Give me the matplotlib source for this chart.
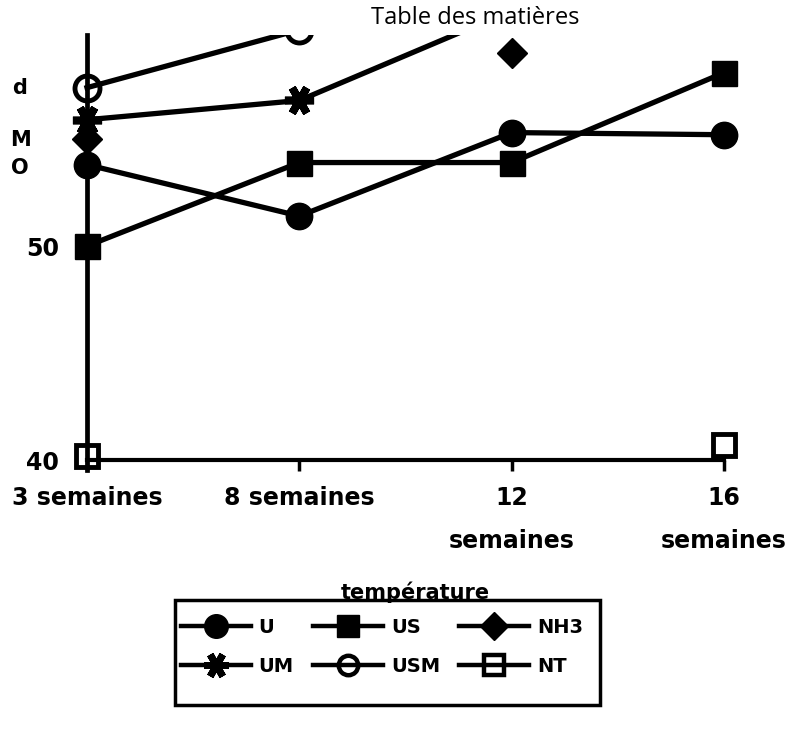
import numpy as np
import matplotlib
matplotlib.use("Agg")
import matplotlib.pyplot as plt
from matplotlib.lines import Line2D
from matplotlib.patches import Rectangle

# ---------------- data ----------------
categories = ["3 semaines", "8 semaines", "12\nsemaines", "16\nsemaines"]
U   = [53.8, 51.4, 55.3, 55.2]
US  = [50.0, 53.9, 53.9, 58.1]
NH3 = [55.0, np.nan, 59.0, np.nan]
UM  = [55.9, 56.8, 61.0, np.nan]
USM = [57.4, 60.1, np.nan, np.nan]
NT  = [40.2, np.nan, np.nan, 40.7]
y_ticks = [40, 50]
legend_title = "température"
page_title = "Table des matières"

# ---------------- layout (pixels) ----------------
W, H = 789, 732
fig = plt.figure(figsize=(W / 100, H / 100), dpi=100)

ax_left_px, ax_right_px = 40, 789
ax_top_px, ax_bot_px = 35, 470
x0_px, x3_px = 87, 724          # positions of first / last category
y50_px, y40_px = 246, 460       # positions of 50 and 40

ax = fig.add_axes([ax_left_px / W, 1 - ax_bot_px / H,
                   (ax_right_px - ax_left_px) / W, (ax_bot_px - ax_top_px) / H])
sx = (x3_px - x0_px) / 3.0
ax.set_xlim((ax_left_px - x0_px) / sx, (ax_right_px - x0_px) / sx)
sy = (y40_px - y50_px) / 10.0
ax.set_ylim(40 - (ax_bot_px - y40_px) / sy, 50 + (y50_px - ax_top_px) / sy)

x = np.arange(len(categories))
lw = 3.8
common = dict(color="black", lw=lw, clip_on=True, zorder=3)
ax.plot(x, U, marker="o", ms=19, mfc="black", mec="black", **common)
ax.plot(x, US, marker="s", ms=18, mfc="black", mec="black", **common)
ax.plot(x, NH3, marker="D", ms=15, mfc="black", mec="black", **common)
ax.plot(x, UM, marker=(6, 2, 90), ms=21, mew=5.5, mec="black", **common)
ax.plot(x, USM, marker="o", ms=18, mfc="none", mec="black", mew=3.5, **common)
ax.plot(x, NT, marker="s", ms=16, mfc="none", mec="black", mew=3.5, **common)

# spines
for s in ("top", "right"):
    ax.spines[s].set_visible(False)
ax.spines["left"].set_position(("data", 0))
ax.spines["bottom"].set_position(("data", 40))
ax.spines["bottom"].set_bounds(0, 3)
ax.spines["left"].set_linewidth(3.4)
ax.spines["bottom"].set_linewidth(3.0)

ax.set_xticks(x)
ax.set_xticklabels(categories, fontfamily="DejaVu Sans", fontweight="bold",
                   fontsize=17, linespacing=2.0, va="top")
ax.tick_params(axis="x", direction="out", length=8, width=2.5, pad=11)
ax.set_yticks(y_ticks)
ax.set_yticklabels([str(v) for v in y_ticks], fontfamily="DejaVu Sans",
                   fontweight="bold", fontsize=17)
ax.tick_params(axis="y", length=0, pad=20)

# stacked y-axis letters
for letter, ypx in zip(["d", "M", "O"], [88, 140, 168]):
    fig.text(20 / W, 1 - ypx / H, letter, ha="center", va="center",
             fontfamily="DejaVu Sans", fontweight="bold", fontsize=15)

# page title
fig.text(475 / W, 1 - 18 / H, page_title, ha="center", va="center",
         fontfamily="Open Sans", fontsize=17)

# legend
handles = [
    Line2D([], [], color="black", lw=3.2, marker="o", ms=17, mfc="black"),
    Line2D([], [], color="black", lw=3.2, marker=(6, 2, 90), ms=18, mew=5),
    Line2D([], [], color="black", lw=3.2, marker="s", ms=16, mfc="black"),
    Line2D([], [], color="black", lw=3.2, marker="o", ms=14, mfc="none", mew=3.2),
    Line2D([], [], color="black", lw=3.2, marker="D", ms=14, mfc="black"),
    Line2D([], [], color="black", lw=3.2, marker="s", ms=14, mfc="none", mew=3.2),
]
labels = ["U", "UM", "US", "USM", "NH3", "NT"]
leg_l, leg_r, leg_t, leg_b = 175, 600, 600, 705
fig.patches.append(Rectangle((leg_l / W, 1 - leg_b / H), (leg_r - leg_l) / W,
                             (leg_b - leg_t) / H, transform=fig.transFigure,
                             fill=False, edgecolor="black", linewidth=2.5))
leg = fig.legend(handles, labels, ncol=3, loc="center",
                 bbox_to_anchor=(382 / W, 1 - 647 / H),
                 frameon=False, borderaxespad=0, borderpad=0,
                 handlelength=3.6, handletextpad=0.4, columnspacing=1.0,
                 labelspacing=1.05,
                 prop=dict(family="DejaVu Sans", weight="bold", size=14))
fig.text(415 / W, 1 - 592 / H, legend_title, ha="center", va="center",
         fontfamily="DejaVu Sans", fontweight="bold", fontsize=15)

fig.savefig("out.png", dpi=100)
